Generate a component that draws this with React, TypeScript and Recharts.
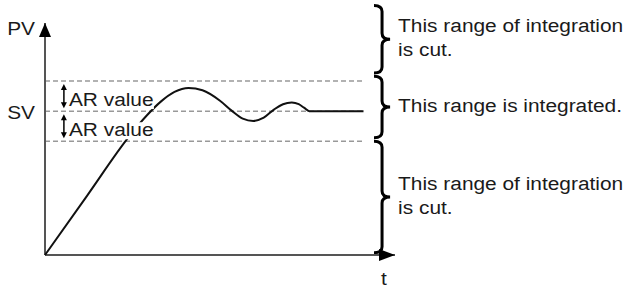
import React from "react";
import {
  ComposedChart,
  Line,
  XAxis,
  YAxis,
  ReferenceLine,
  ReferenceArea,
} from "recharts";

// time (x) and process value (y)
const timeValues = [0, 12, 24, 29, 33, 37, 41, 45, 50, 53.5, 56.5, 59.5, 62.5, 65.5, 68, 70.5, 72.5, 74, 75.5, 91];
const pvValues = [0, 25.5, 51, 60, 66, 70.3, 72, 71, 66.5, 62, 58.8, 57.8, 59.2, 62.8, 65, 65.7, 65, 63.5, 62, 62];

const SV = 62;
const AR = 13;
const dashEnd = 91;
const levels = [SV + AR, SV, SV - AR];

const rangeBounds = [
  [78.5, 107.5],
  [50.5, 77],
  [1, 49],
];
const rangeLabels = [
  ["This range of integration", "is cut."],
  ["This range is integrated."],
  ["This range of integration", "is cut."],
];
const braceX = [94, 98.6];
const arX = [5.4, 31];

const data = timeValues.map((t, i) => ({ t, pv: pvValues[i] }));

const FONT = "'Liberation Sans', Arial, sans-serif";

function StretchText({ x, y, children, anchor = "start" }: any) {
  return (
    <text
      transform={`translate(${x},${y}) scale(1.16,1)`}
      textAnchor={anchor}
      fontSize={18}
      fontFamily={FONT}
      fill="#1a1a1a"
    >
      {children}
    </text>
  );
}

function Brace(props: any) {
  const { x, y, width, height, lines } = props;
  const xs = x + width / 2;
  const xt = x + width;
  const y1 = y;
  const y2 = y + height;
  const ym = (y1 + y2) / 2;
  const q = 6;
  const d = `M${x},${y1} Q${xs},${y1} ${xs},${y1 + q} L${xs},${ym - q} Q${xs},${ym} ${xt},${ym} Q${xs},${ym} ${xs},${ym + q} L${xs},${y2 - q} Q${xs},${y2} ${x},${y2}`;
  const first = ym + 5 - (lines.length - 1) * 12;
  return (
    <g>
      <path d={d} fill="none" stroke="#000" strokeWidth={3} />
      {lines.map((s: string, i: number) => (
        <StretchText key={i} x={xt + 8} y={first + i * 24}>
          {s}
        </StretchText>
      ))}
    </g>
  );
}

function ArMark({ viewBox }: any) {
  const { x, y, height } = viewBox;
  const top = y + 3;
  const bot = y + height - 3;
  const base = y + height / 2 + 10;
  return (
    <g>
      <line x1={x} y1={top + 4} x2={x} y2={bot - 4} stroke="#000" strokeWidth={1.5} />
      <path d={`M${x},${top} L${x - 3},${top + 6} L${x + 3},${top + 6} Z`} fill="#000" />
      <path d={`M${x},${bot} L${x - 3},${bot - 6} L${x + 3},${bot - 6} Z`} fill="#000" />
      <rect x={x + 4} y={base - 14} width={86} height={17} fill="#fff" />
      <StretchText x={x + 5} y={base}>
        AR value
      </StretchText>
    </g>
  );
}

function XArrow({ viewBox }: any) {
  const cx = viewBox.x + viewBox.width;
  const cy = viewBox.y;
  return (
    <g>
      <path d={`M${cx},${cy} L${cx - 16},${cy - 6} L${cx - 16},${cy + 6} Z`} fill="#000" />
      <StretchText x={cx - 11} y={cy + 30} anchor="middle">
        t
      </StretchText>
    </g>
  );
}

function YArrow({ viewBox }: any) {
  const cx = viewBox.x;
  const cy = viewBox.y;
  return (
    <g>
      <path d={`M${cx},${cy} L${cx - 6},${cy + 14} L${cx + 6},${cy + 14} Z`} fill="#000" />
      <StretchText x={cx - 10} y={cy + 12} anchor="end">
        PV
      </StretchText>
    </g>
  );
}

export default function App() {
  return (
    <div style={{ position: "absolute", left: 0, top: 0, background: "#fff" }}>
      <ComposedChart
        width={632}
        height={289}
        data={data}
        margin={{ top: 23, right: 237, bottom: 34, left: 45 }}
      >
        <XAxis type="number" dataKey="t" domain={[0, 100]} hide />
        <YAxis type="number" domain={[0, 100]} hide />
        {levels.map((v) => (
          <ReferenceLine
            key={v}
            segment={[
              { x: 0, y: v },
              { x: dashEnd, y: v },
            ]}
            stroke="#999"
            strokeWidth={1.5}
            strokeDasharray="5 3"
            label={
              v === SV
                ? (p: any) => (
                    <StretchText x={p.viewBox.x - 10} y={p.viewBox.y + 8} anchor="end">
                      SV
                    </StretchText>
                  )
                : undefined
            }
          />
        ))}
        <ReferenceLine
          segment={[
            { x: 0, y: 0 },
            { x: 100, y: 0 },
          ]}
          stroke="#555"
          strokeWidth={2}
          label={(p: any) => <XArrow {...p} />}
        />
        <ReferenceLine
          segment={[
            { x: 0, y: 0 },
            { x: 0, y: 100 },
          ]}
          stroke="#555"
          strokeWidth={2}
          label={(p: any) => <YArrow {...p} />}
        />
        <Line
          dataKey="pv"
          type="monotone"
          stroke="#111"
          strokeWidth={2}
          dot={false}
          isAnimationActive={false}
        />
        <ReferenceArea
          x1={arX[0]}
          x2={arX[1]}
          y1={SV}
          y2={SV + AR}
          ifOverflow="visible"
          fill="none"
          zIndex={1000}
          label={(p: any) => <ArMark {...p} />}
        />
        <ReferenceArea
          x1={arX[0]}
          x2={arX[1]}
          y1={SV - AR}
          y2={SV}
          ifOverflow="visible"
          fill="none"
          zIndex={1000}
          label={(p: any) => <ArMark {...p} />}
        />
        {rangeBounds.map((b, i) => (
          <ReferenceArea
            key={i}
            x1={braceX[0]}
            x2={braceX[1]}
            y1={b[0]}
            y2={b[1]}
            ifOverflow="visible"
            shape={(p: any) => <Brace {...p} lines={rangeLabels[i]} />}
          />
        ))}
      </ComposedChart>
    </div>
  );
}
